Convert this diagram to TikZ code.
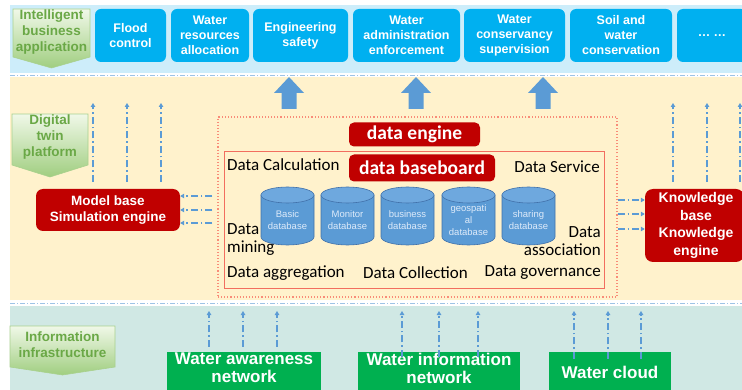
\documentclass[tikz,border=0pt]{standalone}
\usepackage{fontspec}
\setmainfont{Carlito}
\newfontfamily\arialf{Liberation Sans}
\usetikzlibrary{arrows.meta,calc}
\definecolor{topband}{RGB}{205,237,250}
\definecolor{midband}{RGB}{255,242,204}
\definecolor{botband}{RGB}{208,232,228}
\definecolor{boxblue}{RGB}{0,176,240}
\definecolor{redc}{RGB}{192,0,0}
\definecolor{salmon}{RGB}{242,110,95}
\definecolor{salmonlt}{RGB}{248,140,120}
\definecolor{arrowblue}{RGB}{91,155,213}
\definecolor{sepblue}{RGB}{157,195,230}
\definecolor{greenc}{RGB}{0,176,80}
\definecolor{pentop}{RGB}{240,248,232}
\definecolor{penbot}{RGB}{160,206,128}
\definecolor{penborder}{RGB}{169,209,142}
\definecolor{pentext}{RGB}{106,168,70}
\definecolor{cylbody}{RGB}{91,155,213}
\definecolor{cyltop}{RGB}{110,168,222}
\definecolor{cylline}{RGB}{65,113,170}
\definecolor{cyltext}{RGB}{222,235,250}
\begin{document}
\begin{tikzpicture}[x=1pt,y=1pt,
  bluebox/.style={rounded corners=6pt, fill=boxblue, text=white, font=\arialf\bfseries\fontsize{12.5}{15}\selectfont, align=center, inner sep=0pt, minimum height=53pt},
  redbox/.style={rounded corners=5pt, fill=redc, text=white, align=center, inner sep=0pt},
  greenbox/.style={fill=greenc, text=white, font=\arialf\bfseries\fontsize{17}{18}\selectfont, align=center, inner sep=0pt, minimum height=40pt},
  dd/.style={draw=arrowblue, line width=1.2pt, dash pattern=on 7pt off 3pt on 1.5pt off 3pt, -{Triangle[length=4pt,width=4.5pt]}},
  sep/.style={draw=sepblue, line width=0.8pt, dash pattern=on 5pt off 2pt on 1pt off 2pt},
  txt/.style={font=\fontsize{17}{18}\selectfont, inner sep=0pt},
  pent/.style={top color=pentop, bottom color=penbot, draw=penborder, line width=0.6pt},
  pentxt/.style={text=pentext, font=\arialf\bfseries\fontsize{13.5}{16}\selectfont, align=center, inner sep=0pt},
  cyl/.style={fill=cylbody, draw=cylline, line width=0.6pt},
  cyllab/.style={text=cyltext, font=\arialf\fontsize{9.5}{12}\selectfont, align=center, inner sep=0pt}
]
\useasboundingbox (0,0) rectangle (742,-390);
\clip (0,0) rectangle (742,-390);
\fill[white] (0,0) rectangle (742,-390);
% bands
\fill[topband] (10,-5) rectangle (742,-73);
\fill[midband] (10,-77) rectangle (742,-300);
\fill[botband] (10,-306) rectangle (742,-390);
\draw[sep] (10,-75) -- (742,-75);
\draw[sep] (10,-303.5) -- (742,-303.5);

% layer labels (pentagons)
\path[pent] (13,-9) -- (90,-9) -- (90,-57) -- (51.5,-68) -- (13,-57) -- cycle;
\node[pentxt] (lbltop) at (51.5,-32.5) {Intelligent\\business\\application};
\path[pent] (12,-114) -- (88,-114) -- (88,-165) -- (50,-177) -- (12,-165) -- cycle;
\node[pentxt] (lblmid) at (50,-137) {Digital\\twin\\platform};
\path[pent] (10,-326) -- (115,-326) -- (115,-367) -- (62.5,-375) -- (10,-367) -- cycle;
\node[pentxt] (lblbot) at (62.5,-345) {Information\\infrastructure};

% top application boxes
\node[bluebox, minimum width=71pt]  (flood) at (130.5,-35.5) {Flood\\control};
\node[bluebox, minimum width=78pt]  (wra)   at (210,-35.5)   {Water\\resources\\allocation};
\node[bluebox, minimum width=95pt]  (eng)   at (300.5,-35.5) {Engineering\\safety};
\node[bluebox, minimum width=107pt] (wae)   at (406.5,-35.5) {Water\\administration\\enforcement};
\node[bluebox, minimum width=101pt] (wcs)   at (514.5,-35.5) {Water\\conservancy\\supervision};
\node[bluebox, minimum width=102pt] (swc)   at (621,-35.5)   {Soil and\\water\\conservation};
\node[bluebox, minimum width=70pt]  (more)  at (712,-35.5)   {\ldots\ \ldots};

% big up arrows
\foreach \c in {289,416,543}{
  \fill[arrowblue] ({\c-7.5},-109) -- ({\c-7.5},-93) -- ({\c-15},-93) -- (\c,-77) -- ({\c+15},-93) -- ({\c+7.5},-93) -- ({\c+7.5},-109) -- cycle;
}

% data engine frames
\node[draw=salmonlt, dotted, line width=1.1pt, minimum width=399pt, minimum height=180pt, inner sep=0pt] (outer) at (417.5,-207) {};
\node[draw=salmon, line width=0.9pt, minimum width=380pt, minimum height=137pt, inner sep=0pt] (inner) at (414,-219.5) {};
\node[redbox, minimum width=131pt, minimum height=24pt, font=\bfseries\fontsize{19.5}{21}\selectfont] (engine) at (414.5,-134.5) {data engine};
\node[redbox, minimum width=146pt, minimum height=27pt, font=\bfseries\fontsize{19.5}{21}\selectfont] (baseboard) at (422,-168) {data baseboard};

% texts inside
\node[txt, anchor=west] (calc) at (227,-165) {Data Calculation};
\node[txt, anchor=east] (serv) at (600,-167) {Data Service};
\node[txt, anchor=west, align=left] (mining) at (227,-239.5) {Data\\mining};
\node[txt, anchor=east, align=right] (assoc) at (601,-241.5) {Data\\association};
\node[txt, anchor=west] (aggr) at (227,-273) {Data aggregation};
\node[txt] (coll) at (415.5,-273) {Data Collection};
\node[txt, anchor=east] (gov) at (601,-273) {Data governance};

% cylinders
\foreach \c/\lab/\nm in {287.5/{Basic\\database}/basic, 347.5/{Monitor\\database}/monitor, 407.5/{business\\database}/business, 468.5/{geospati\\al\\database}/geo, 528.5/{sharing\\database}/sharing}{
  \path[cyl] ({\c-26.5},-195) -- ({\c-26.5},-237) arc[start angle=180, end angle=360, x radius=26.5, y radius=8] -- ({\c+26.5},-195) -- cycle;
  \path[cyl, fill=cyltop] (\c,-195) ellipse[x radius=26.5, y radius=8];
  \node[cyllab] (\nm) at (\c,-220) {\lab};
}

% model base
\node[redbox, rounded corners=7pt, minimum width=144pt, minimum height=42pt, font=\arialf\bfseries\fontsize{13.5}{16.5}\selectfont] (model) at (108,-210) {Model base\\Simulation engine};
% knowledge
\node[redbox, rounded corners=8pt, minimum width=99pt, minimum height=73pt, font=\arialf\bfseries\fontsize{14}{17.5}\selectfont] (know) at (694.5,-225.5) {\hspace*{3pt}Knowledge\\\hspace*{3pt}base\\\hspace*{3pt}Knowledge\\\hspace*{3pt}engine};

% arrows from data engine to model base / knowledge
\foreach \y in {196,210,223}{
  \draw[dd] ([xshift=-5pt]outer.west |- 0,-\y) -- (model.east |- 0,-\y);
}
\foreach \y in {200,214,229}{
  \draw[dd] (outer.east |- 0,-\y) -- (know.west |- 0,-\y);
}
% up arrows above model base and knowledge
\foreach \x in {93,127,161}{
  \draw[dd] ([yshift=7pt]model.north -| \x,0) -- (\x,-103);
}
\foreach \x in {673,707,740}{
  \draw[dd] ([yshift=7pt]know.north -| \x,0) -- (\x,-103);
}

% infrastructure
\node[greenbox, minimum width=154pt] (aware) at (244,-372) {};
\node[greenbox, minimum width=162pt] (infonet) at (439,-372) {};
\node[greenbox, minimum width=122pt] (cloud) at (610,-372) {Water cloud};
\node[greenbox, fill=none, minimum height=0pt, anchor=north] (awaretxt) at ([yshift=-1pt]aware.north) {Water awareness\\network};
\node[greenbox, fill=none, minimum height=0pt, anchor=north] (infotxt) at ([yshift=-1pt]infonet.north) {Water information\\network};

\foreach \x in {209,243,277}{
  \draw[dd] ([yshift=5pt]aware.north -| \x,0) -- (\x,-311);
}
\foreach \x in {402,439,478}{
  \draw[dd] ([yshift=-5pt]infonet.north -| \x,0) -- (\x,-311);
}
\foreach \x in {574,608,641}{
  \draw[dd] ([yshift=-7pt]cloud.north -| \x,0) -- (\x,-311);
}
\end{tikzpicture}
\end{document}
